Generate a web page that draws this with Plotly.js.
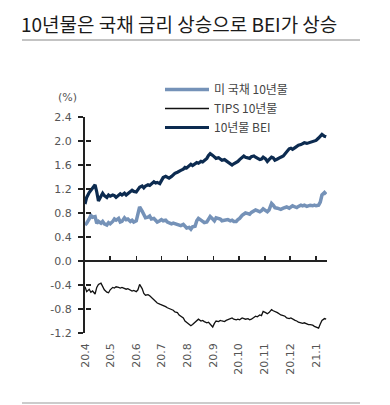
<!DOCTYPE html>
<html>
<head>
<meta charset="utf-8">
<script src="https://cdn.plot.ly/plotly-3.0.1.min.js"></script>
<style>
  html, body { margin: 0; padding: 0; background: #fff; }
  #chart { width: 390px; height: 405px; }
</style>
</head>
<body>
<div id="chart"></div>
<script>
// ---- data ----
const dates = [
  '2020-04-01','2020-04-03','2020-04-06','2020-04-08','2020-04-10','2020-04-13','2020-04-15','2020-04-17','2020-04-20','2020-04-22','2020-04-24','2020-04-27','2020-04-29',
  '2020-05-01','2020-05-04','2020-05-06','2020-05-08','2020-05-11','2020-05-13','2020-05-15','2020-05-18','2020-05-20','2020-05-22','2020-05-25','2020-05-27','2020-05-29',
  '2020-06-01','2020-06-03','2020-06-05','2020-06-08','2020-06-10','2020-06-12','2020-06-15','2020-06-17','2020-06-19','2020-06-22','2020-06-24','2020-06-26','2020-06-29',
  '2020-07-01','2020-07-03','2020-07-06','2020-07-08','2020-07-10','2020-07-13','2020-07-15','2020-07-17','2020-07-20','2020-07-22','2020-07-24','2020-07-27','2020-07-29','2020-07-31',
  '2020-08-03','2020-08-05','2020-08-07','2020-08-10','2020-08-12','2020-08-14','2020-08-17','2020-08-19','2020-08-21','2020-08-24','2020-08-26','2020-08-28','2020-08-31',
  '2020-09-02','2020-09-04','2020-09-07','2020-09-09','2020-09-11','2020-09-14','2020-09-16','2020-09-18','2020-09-21','2020-09-23','2020-09-25','2020-09-28','2020-09-30',
  '2020-10-02','2020-10-05','2020-10-07','2020-10-09','2020-10-12','2020-10-14','2020-10-16','2020-10-19','2020-10-21','2020-10-23','2020-10-26','2020-10-28','2020-10-30',
  '2020-11-02','2020-11-04','2020-11-06','2020-11-09','2020-11-11','2020-11-13','2020-11-16','2020-11-18','2020-11-20','2020-11-23','2020-11-25','2020-11-27','2020-11-30',
  '2020-12-02','2020-12-04','2020-12-07','2020-12-09','2020-12-11','2020-12-14','2020-12-16','2020-12-18','2020-12-21','2020-12-23','2020-12-25','2020-12-28','2020-12-30',
  '2021-01-01','2021-01-04','2021-01-06','2021-01-08','2021-01-11','2021-01-13'
];

const ust10 = [
  0.60,0.63,0.70,0.76,0.73,0.74,0.63,0.66,0.63,0.66,0.62,0.60,0.64,
  0.62,0.66,0.70,0.68,0.71,0.65,0.66,0.72,0.69,0.70,0.66,0.68,0.65,
  0.67,0.77,0.90,0.83,0.78,0.72,0.73,0.75,0.70,0.71,0.68,0.65,0.67,
  0.69,0.67,0.68,0.65,0.64,0.62,0.63,0.62,0.61,0.60,0.59,0.61,0.58,0.55,
  0.56,0.53,0.57,0.58,0.67,0.71,0.68,0.66,0.64,0.65,0.69,0.74,0.70,
  0.67,0.72,0.70,0.70,0.67,0.68,0.69,0.69,0.67,0.68,0.66,0.66,0.69,
  0.71,0.76,0.79,0.80,0.79,0.78,0.81,0.83,0.85,0.84,0.82,0.84,0.87,
  0.84,0.82,0.85,0.96,0.93,0.89,0.88,0.87,0.86,0.88,0.89,0.90,0.88,
  0.91,0.92,0.90,0.89,0.91,0.93,0.92,0.93,0.91,0.92,0.93,0.92,0.93,
  0.92,0.93,0.98,1.10,1.14,1.11
];

const tips10 = [
  -0.43,-0.51,-0.47,-0.52,-0.50,-0.55,-0.44,-0.39,-0.37,-0.43,-0.48,-0.52,-0.53,
  -0.48,-0.44,-0.45,-0.43,-0.44,-0.45,-0.44,-0.46,-0.47,-0.46,-0.49,-0.50,-0.49,
  -0.51,-0.48,-0.39,-0.46,-0.54,-0.57,-0.56,-0.58,-0.61,-0.64,-0.68,-0.70,-0.72,
  -0.73,-0.74,-0.76,-0.78,-0.79,-0.81,-0.82,-0.85,-0.86,-0.90,-0.92,-0.95,-1.00,-1.02,
  -1.05,-1.08,-1.06,-1.02,-0.99,-0.97,-1.00,-0.99,-1.01,-1.03,-1.02,-1.05,-1.10,
  -1.04,-1.00,-1.01,-0.99,-1.00,-1.01,-0.99,-0.98,-0.96,-0.95,-0.97,-0.98,-0.97,
  -0.98,-0.95,-0.96,-0.97,-0.96,-0.98,-0.97,-0.94,-0.92,-0.93,-0.90,-0.91,-0.84,
  -0.86,-0.88,-0.86,-0.81,-0.83,-0.84,-0.86,-0.88,-0.90,-0.91,-0.92,-0.95,-0.96,
  -0.95,-0.97,-0.99,-1.00,-1.02,-1.03,-1.04,-1.03,-1.05,-1.06,-1.06,-1.07,-1.09,
  -1.10,-1.12,-1.05,-0.99,-0.96,-0.97
];

const bei10 = [
  0.95,1.06,1.14,1.18,1.22,1.27,1.15,1.00,1.08,1.13,1.09,1.06,1.10,
  1.08,1.10,1.09,1.06,1.10,1.12,1.10,1.13,1.10,1.12,1.15,1.18,1.16,
  1.15,1.19,1.23,1.25,1.22,1.25,1.27,1.26,1.29,1.32,1.30,1.31,1.29,
  1.35,1.39,1.41,1.40,1.38,1.41,1.44,1.46,1.48,1.50,1.51,1.53,1.56,1.55,
  1.58,1.61,1.59,1.62,1.64,1.63,1.66,1.65,1.67,1.71,1.76,1.79,1.76,
  1.73,1.71,1.72,1.70,1.68,1.69,1.67,1.65,1.63,1.60,1.62,1.64,1.66,
  1.69,1.72,1.75,1.73,1.72,1.71,1.74,1.75,1.73,1.71,1.69,1.70,1.73,
  1.70,1.66,1.69,1.73,1.72,1.68,1.70,1.72,1.73,1.75,1.79,1.82,1.87,
  1.88,1.86,1.89,1.91,1.93,1.94,1.96,1.97,1.96,1.97,1.98,1.99,2.01,
  2.01,2.05,2.08,2.11,2.08,2.07
];

const seriesNames = ['미 국채 10년물', 'TIPS 10년물', '10년물 BEI'];
const xTickVals = ['2020-04-01','2020-05-01','2020-06-01','2020-07-01','2020-08-01','2020-09-01','2020-10-01','2020-11-01','2020-12-01','2021-01-01'];
const xTickText = ['20.4','20.5','20.6','20.7','20.8','20.9','20.10','20.11','20.12','21.1'];
const yTickVals = [-1.2,-0.8,-0.4,0.0,0.4,0.8,1.2,1.6,2.0,2.4];
const yTickText = ['-1.2','-0.8','-0.4','0.0','0.4','0.8','1.2','1.6','2.0','2.4'];
const titleText = '10년물은 국채 금리 상승으로 BEI가 상승';
const xRange = ['2020-04-01', '2021-01-14'];
const yRange = [-1.2, 2.4];

// ---- layout geometry ----
const W = 390, H = 405;
const M = { l: 85, r: 63, t: 117, b: 72 };
const PW = W - M.l - M.r, PH = H - M.t - M.b;
const px = x => (x - M.l) / PW;          // pixel -> paper x
const py = y => (H - M.b - y) / PH;      // pixel -> paper y
const zeroPos = (0 - yRange[0]) / (yRange[1] - yRange[0]);

const tickFont = { family: 'DejaVu Sans, Verdana, sans-serif', size: 11, color: '#555' };
const korFont = 'Noto Sans CJK KR, Noto Sans, sans-serif';

const traces = [
  { x: dates, y: ust10, name: seriesNames[0], type: 'scatter', mode: 'lines',
    line: { color: '#7592b8', width: 3.5 } },
  { x: dates, y: tips10, name: seriesNames[1], type: 'scatter', mode: 'lines',
    line: { color: '#111111', width: 1.3 } },
  { x: dates, y: bei10, name: seriesNames[2], type: 'scatter', mode: 'lines',
    line: { color: '#0c2b50', width: 3.2 } },
  // empty helper trace so the overlay axes (zero-line ticks, inner y ticks) are drawn
  { x: [], y: [], xaxis: 'x2', yaxis: 'y2', showlegend: false, hoverinfo: 'skip',
    type: 'scatter', mode: 'lines' }
];

const layout = {
  width: W, height: H,
  margin: M,
  paper_bgcolor: '#fff', plot_bgcolor: 'rgba(0,0,0,0)',
  showlegend: true,
  title: {
    text: titleText, xref: 'container', yref: 'container',
    x: 21 / W, xanchor: 'left', y: 1 - 25 / H, yanchor: 'middle',
    font: { family: korFont, size: 19, color: '#1a1a1a', weight: 400 }
  },
  xaxis: {
    type: 'date', range: xRange, showgrid: false, zeroline: false,
    showline: false, ticks: '', tickvals: xTickVals, ticktext: xTickText,
    tickangle: -90, tickfont: tickFont, ticklabelstandoff: 7, fixedrange: true
  },
  xaxis2: {
    type: 'date', range: xRange, overlaying: 'x', anchor: 'free', position: zeroPos,
    showgrid: false, zeroline: false, showline: true, linecolor: '#222', linewidth: 2,
    ticks: 'inside', ticklen: 4, tickwidth: 1.5, tickcolor: '#222',
    tickvals: xTickVals, showticklabels: false, fixedrange: true
  },
  yaxis: {
    range: yRange, showgrid: false, zeroline: false,
    showline: true, linecolor: '#222', linewidth: 2,
    ticks: 'outside', ticklen: 5, tickwidth: 1.5, tickcolor: '#222',
    tickvals: yTickVals, ticktext: yTickText, tickfont: tickFont,
    ticklabelstandoff: 4, fixedrange: true
  },
  yaxis2: {
    range: yRange, overlaying: 'y', anchor: 'free', position: 0, side: 'left',
    showgrid: false, zeroline: false, showline: false,
    ticks: 'inside', ticklen: 5, tickwidth: 1.5, tickcolor: '#222',
    tickvals: yTickVals, showticklabels: false, fixedrange: true
  },
  legend: {
    x: px(160), xanchor: 'left', y: py(75), yanchor: 'top',
    bgcolor: 'rgba(0,0,0,0)', borderwidth: 0,
    font: { family: korFont, size: 12, color: '#444' },
    tracegroupgap: 0, itemwidth: 44
  },
  annotations: [
    { text: '(%)', xref: 'paper', yref: 'paper', x: px(67), y: py(98),
      xanchor: 'center', yanchor: 'middle', showarrow: false,
      font: { family: 'DejaVu Sans, Verdana, sans-serif', size: 11, color: '#555' } }
  ],
  shapes: [
    { type: 'line', xref: 'paper', yref: 'paper', x0: px(22), x1: px(360), y0: py(40), y1: py(40),
      line: { color: '#888', width: 1 } },
    { type: 'line', xref: 'paper', yref: 'paper', x0: px(22), x1: px(360), y0: py(403), y1: py(403),
      line: { color: '#999', width: 1 } }
  ]
};

Plotly.newPlot('chart', traces, layout, { displayModeBar: false, staticPlot: true });
</script>
</body>
</html>
